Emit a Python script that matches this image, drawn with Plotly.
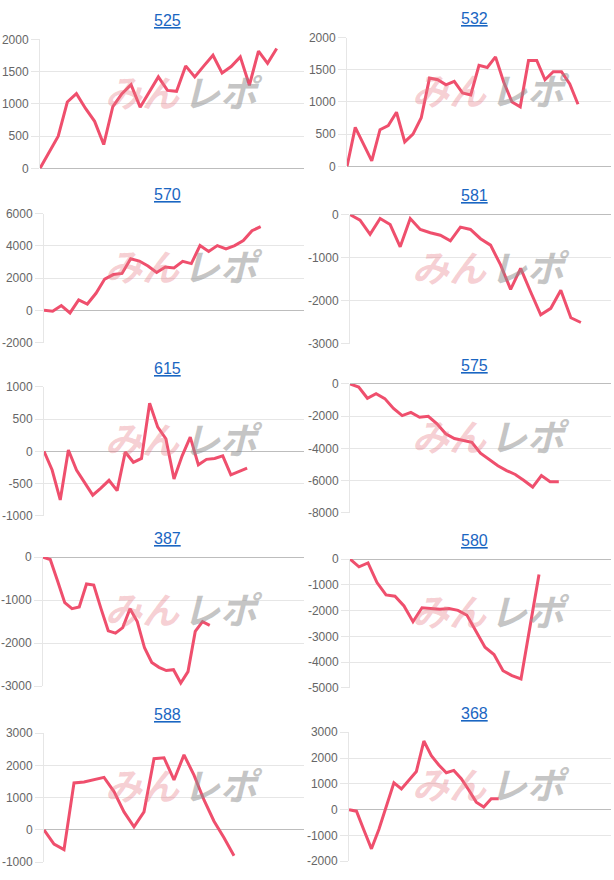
import plotly.graph_objects as go

# ---- data ----
titles = ["525", "532", "570", "581", "615", "575", "387", "580", "588", "368"]

s525 = [0, 260, 500, 1030, 1160, 930, 730, 370, 960, 1160, 1300, 950, 1180, 1420, 1210,
        1195, 1590, 1420, 1590, 1755, 1480, 1580, 1730, 1290, 1820, 1630, 1860]
s532 = [0, 605, 345, 85, 570, 635, 840, 380, 500, 755, 1370, 1345, 1265, 1320, 1140, 1110,
        1570, 1535, 1700, 1305, 1000, 925, 1645, 1645, 1345, 1470, 1470, 1280, 965]
s570 = [0, -60, 300, -160, 650, 390, 1060, 1940, 2220, 2290, 3200, 3060, 2755, 2350, 2690,
        2630, 3040, 2900, 4020, 3650, 4020, 3820, 4020, 4330, 4940, 5200]
s581 = [0, -130, -460, -90, -230, -750, -90, -345, -420, -480, -610, -290, -345, -560, -710,
        -1170, -1740, -1250, -1800, -2330, -2180, -1760, -2400, -2510]
s615 = [0, -290, -755, 20, -290, -490, -680, -570, -450, -610, -10, -170, -110, 745, 375,
        195, -430, -70, 220, -210, -125, -110, -70, -365, -310, -260]
s575 = [0, -200, -890, -610, -910, -1520, -1970, -1770, -2070, -2010, -2480, -3090, -3390,
        -3490, -3630, -4300, -4710, -5080, -5380, -5620, -5990, -6400, -5690, -6070, -6070]
s387 = [0, -55, -550, -1060, -1200, -1160, -625, -650, -1200, -1715, -1770, -1640, -1200,
        -1500, -2110, -2450, -2565, -2640, -2620, -2930, -2665, -1730, -1500, -1590]
s580 = [0, -300, -150, -910, -1390, -1440, -1820, -2430, -1890, -1920, -1950, -1920, -1990,
        -2180, -2810, -3420, -3700, -4330, -4520, -4650, -2620, -600]
s588 = [0, -440, -610, 1460, 1490, 1570, 1630, 1190, 560, 100, 560, 2210, 2240, 1550, 2330,
        1700, 930, 270, -240, -800]
s368 = [0, -60, -800, -1520, -760, 190, 1040, 800, 1140, 1480, 2660, 2090, 1730, 1430, 1520,
        1200, 760, 290, 100, 420, 420]

series = [s525, s532, s570, s581, s615, s575, s387, s580, s588, s368]
slot_counts = [30, 33, 31, 27, 33, 31, 37, 30, 27, 36]   # number of x categories per chart
y_ranges = [(0, 2000), (0, 2000), (-2000, 6000), (-3000, 0), (-1000, 1000),
            (-8000, 0), (-3000, 0), (-5000, 0), (-1000, 3000), (-2000, 3000)]
y_steps = [500, 500, 2000, 1000, 500, 2000, 1000, 1000, 1000, 1000]

# ---- layout geometry (pixels) ----
W, H = 614, 880
plot_left = [40, 347, 44, 350, 44, 350, 43, 350, 44, 349]
plot_right = [304, 611, 304, 611, 304, 611, 304, 611, 304, 611]
plot_top = [33, 31, 210, 211, 386, 383, 559, 561, 738, 737]
plot_bot = [164, 162, 341, 342, 517, 514, 690, 692, 869, 868]

LINE = "#ef4f6d"
GRID = "#e6e6e6"
ZERO = "#bdbdbd"
TICKC = "#666666"
LINK = "#1a66c2"

fig = go.Figure()
annotations = []
layout = dict(width=W, height=H, margin=dict(l=0, r=0, t=0, b=0), autosize=False,
              paper_bgcolor="white", plot_bgcolor="white", showlegend=False)

for i in range(10):
    k = "" if i == 0 else str(i + 1)
    col = i % 2
    fig.add_trace(go.Scatter(x=list(range(len(series[i]))), y=series[i], mode="lines",
                             line=dict(color=LINE, width=3), xaxis="x" + k, yaxis="y" + k,
                             hoverinfo="skip"))
    xd = [plot_left[i] / W, plot_right[i] / W]
    yd = [1 - plot_bot[i] / H, 1 - plot_top[i] / H]
    layout["xaxis" + k] = dict(domain=xd, anchor="y" + k, range=[0, slot_counts[i] - 1],
                               showgrid=False, zeroline=False, showline=False,
                               showticklabels=False, ticks="", fixedrange=True)
    lo, hi = y_ranges[i]
    tv = list(range(lo, hi + 1, y_steps[i]))
    layout["yaxis" + k] = dict(domain=yd, anchor="x" + k, range=[lo, hi],
                               tickmode="array", tickvals=tv, ticktext=[str(v) for v in tv],
                               showgrid=True, gridcolor=GRID, gridwidth=1,
                               zeroline=True, zerolinecolor=ZERO, zerolinewidth=1,
                               showline=True, linecolor=GRID, linewidth=1,
                               ticks="outside", ticklen=8, tickcolor=GRID,
                               tickfont=dict(family="Liberation Sans, Arial", size=12, color=TICKC),
                               fixedrange=True)
    base_x = col * 307
    # title link
    annotations.append(dict(
        text='<span style="text-decoration:underline">' + titles[i] + '</span>',
        x=(base_x + 167) / W, y=1 - (plot_top[i] - 19) / H, xref="paper", yref="paper",
        xanchor="center", yanchor="middle", showarrow=False,
        font=dict(family="Liberation Sans, Arial", size=16, color=LINK)))
    # watermark
    wm_y = 1 - (plot_top[i] + 52) / H
    annotations.append(dict(text="<b><i>みん</i></b>", x=(base_x + 142) / W, y=wm_y,
                            xref="paper", yref="paper", xanchor="center", yanchor="middle",
                            showarrow=False,
                            font=dict(family="Noto Sans CJK JP", size=37,
                                      color="rgba(230,120,130,0.36)")))
    annotations.append(dict(text="<b><i>レポ</i></b>", x=(base_x + 223) / W, y=wm_y,
                            xref="paper", yref="paper", xanchor="center", yanchor="middle",
                            showarrow=False,
                            font=dict(family="Noto Sans CJK JP", size=37,
                                      color="rgba(140,140,140,0.5)")))

layout["annotations"] = annotations
fig.update_layout(**layout)
fig.write_html("out.html", config={"displayModeBar": False},
               post_script="document.body.style.margin='0';document.body.style.overflow='hidden';")
